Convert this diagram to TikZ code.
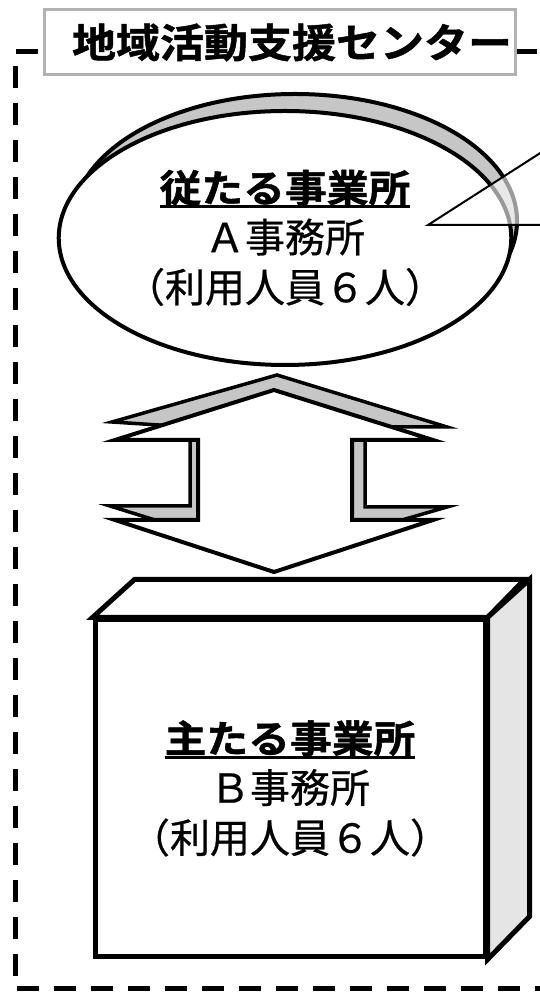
\documentclass[tikz,border=0pt]{standalone}
\usepackage{fontspec}
\setmainfont{Noto Sans CJK JP}[FakeBold=0.6]
\newfontfamily\heavyfont[FakeBold=1.2,FakeStretch=1.1]{Noto Sans CJK JP Bold}
\usetikzlibrary{shapes.geometric}

\newcommand{\ulbox}[1]{\setbox0\hbox{#1}\rlap{\rule[-6pt]{\wd0}{3pt}}\box0}
\newcommand{\heading}[1]{{\fontsize{38}{50}\selectfont\heavyfont\ulbox{#1}}}

\tikzset{
  frame/.style={line width=5pt, dash pattern=on 22pt off 15pt},
  oval/.style={ellipse, draw, line width=4pt, minimum width=444pt, minimum height=254pt, inner sep=0pt},
  officetext/.style={align=center, font=\fontsize{40}{50}\selectfont},
  arrowback/.style={fill=gray!45, draw, line width=3.5pt, line join=miter},
}

\begin{document}
\begin{tikzpicture}[x=1pt, y=1pt]
\useasboundingbox (0,0) rectangle (540,998);
\clip (0,0) rectangle (540,998);

% dashed frame
\draw[frame] (38,946) -- (15,946) -- (15,9) -- (545,9);
\draw[frame] (515,946) -- (545,946);

% title
\node(Center) [draw=gray!60, line width=3pt, fill=white, minimum width=464pt, minimum height=65pt] at (280,955.5) {\fontsize{40}{48}\selectfont\heavyfont\hspace*{24pt}地域活動支援センター};

% branch office
\node(BranchBack) [oval, fill=gray!45, xshift=10pt, yshift=17pt] at (285,760) {};
\node(Branch) [oval, fill=white, officetext] at (285,760) {\heading{従たる事業所}\\Ａ事務所\\（利用人員６人）};

% callout
\coordinate(Tip) at (428,773);
\coordinate(CalloutUp) at (545,848);
\coordinate(CalloutDown) at (545,773);
\filldraw[fill=white, fill opacity=0.6, line width=2pt] (CalloutUp) -- (Tip) -- (CalloutDown);

% double arrow
\draw[arrowback] (277,623) -- (447,571) -- (365,571) -- (365,491) -- (447,491) -- (274,441) -- (110,492) -- (190,492) -- (190,571) -- (112,576) -- cycle;
\draw[line width=4pt, fill=white, line join=miter] (274,608) -- (433,558) -- (352,558) -- (352,478) -- (433,478) -- (274,426) -- (115,478) -- (198,478) -- (198,558) -- (115,558) -- cycle;

% main office
\node(Main) [draw, line width=5pt, fill=white, minimum width=390pt, minimum height=337pt, officetext] at (290,209.5) {\heading{主たる事業所}\\Ｂ事務所\\（利用人員６人）};
\draw[line width=5pt, fill=white] (Main.north west) -- ++(42,38) -- ++(390,0) -- (Main.north east) -- cycle;
\draw[line width=5pt, fill=gray!20] (Main.north east) -- ++(42,38) -- ++(0,-337) -- (Main.south east) -- cycle;
\end{tikzpicture}
\end{document}
